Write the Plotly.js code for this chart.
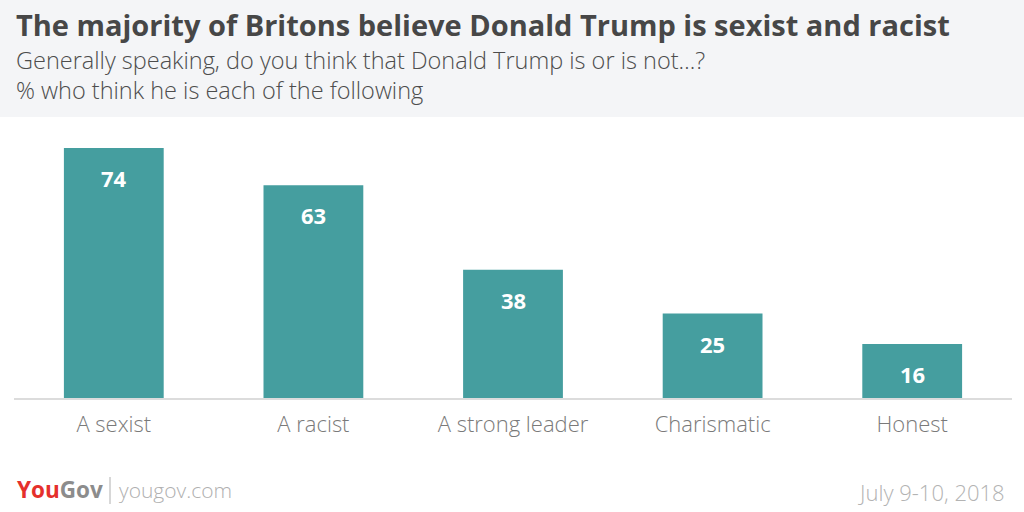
<!DOCTYPE html>
<html><head><meta charset="utf-8">
<script src="https://cdn.plot.ly/plotly-3.0.1.min.js"></script>
<style>html,body{margin:0;padding:0;background:#fff}#chart{width:1024px;height:512px}</style>
</head><body><div id="chart"></div>
<script>
const categories = ["A sexist", "A racist", "A strong leader", "Charismatic", "Honest"];
const values = [74, 63, 38, 25, 16];
const titleText = "The majority of Britons believe Donald Trump is sexist and racist";
const subtitle1 = "Generally speaking, do you think that Donald Trump is or is not…?";
const subtitle2 = "% who think he is each of the following";
const dateText = "July 9-10, 2018";

const W = 1024, H = 512, L = 14, R = 12, T = 130, B = 114;
const pw = W - L - R, ph = H - T - B;
const px = x => (x - L) / pw;
const py = y => (H - B - y) / ph;

const FONT = "'Open Sans', Lato, sans-serif";

const trace = {
  type: "bar", x: categories, y: values,
  marker: {color: "#459e9f"}, width: 0.5,
  hoverinfo: "none", textposition: "none"
};

const annotations = values.map((v, i) => ({
  x: categories[i], y: v, xref: "x", yref: "y", text: String(v),
  showarrow: false, yanchor: "middle", yshift: -30,
  font: {family: FONT, size: 22, color: "#ffffff", weight: 700}
}));

annotations.push(
  {xref: "paper", yref: "paper", x: px(14), y: py(24), xanchor: "left", yanchor: "middle",
   text: "<b>" + titleText + "</b>", showarrow: false,
   font: {family: FONT, size: 29, color: "#474747"}},
  {xref: "paper", yref: "paper", x: px(14), y: py(60), xanchor: "left", yanchor: "middle",
   text: subtitle1, showarrow: false, font: {family: FONT, size: 23.5, color: "#4d4d4d", weight: 300}},
  {xref: "paper", yref: "paper", x: px(14), y: py(90), xanchor: "left", yanchor: "middle",
   text: subtitle2, showarrow: false, font: {family: FONT, size: 23.5, color: "#4d4d4d", weight: 300}},
  {xref: "paper", yref: "paper", x: px(15), y: py(490), xanchor: "left", yanchor: "middle",
   text: "<b><span style='color:#e5302c'>You</span><span style='color:#8c8c8c'>Gov</span></b>", showarrow: false,
   font: {family: FONT, size: 22.5, color: "#8c8c8c"}},
  {xref: "paper", yref: "paper", x: px(117), y: py(490), xanchor: "left", yanchor: "middle",
   text: "yougov.com", showarrow: false, font: {family: FONT, size: 21, color: "#b0b0b0", weight: 300}},
  {xref: "paper", yref: "paper", x: px(1007), y: py(492), xanchor: "right", yanchor: "middle",
   text: dateText, showarrow: false, font: {family: FONT, size: 22, color: "#b3b3b3", weight: 300}}
);

const shapes = [
  {type: "rect", xref: "paper", yref: "paper", x0: px(0), x1: px(W), y0: py(117), y1: py(0),
   fillcolor: "#f4f5f7", line: {width: 0}, layer: "below"},
  {type: "line", xref: "paper", yref: "paper", x0: px(110), x1: px(110), y0: py(477), y1: py(504),
   line: {color: "#b0b0b0", width: 1}}
];

const layout = {
  width: W, height: H,
  margin: {l: L, r: R, t: T, b: B},
  paper_bgcolor: "#ffffff", plot_bgcolor: "#ffffff",
  showlegend: false, bargap: 0.5,
  xaxis: {showline: true, linecolor: "#dcdcdc", linewidth: 2, ticks: "", showgrid: false,
          tickfont: {family: FONT, size: 22, color: "#7a7a7a", weight: 300}, ticklabelstandoff: 6, fixedrange: true},
  yaxis: {range: [0, ph / 3.378], visible: false, showgrid: false, zeroline: false, fixedrange: true},
  annotations: annotations, shapes: shapes
};

Plotly.newPlot("chart", [trace], layout, {displayModeBar: false, staticPlot: true});
</script></body></html>
